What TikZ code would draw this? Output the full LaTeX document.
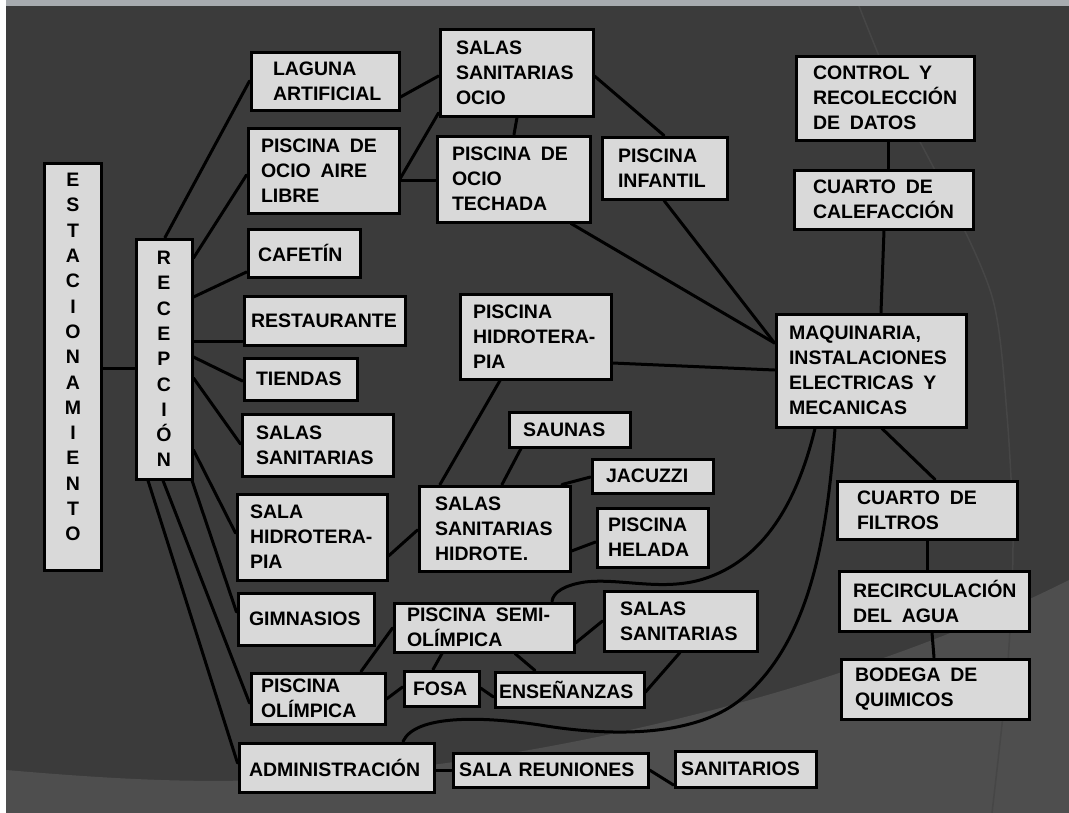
\documentclass[tikz,border=0pt]{standalone}
\usepackage{fontspec}
\setmainfont{Liberation Sans}
\usetikzlibrary{calc}
\pgfdeclarelayer{bg}
\pgfdeclarelayer{lines}
\pgfsetlayers{bg,lines,main}
\definecolor{bgdark}{HTML}{3B3B3B}
\definecolor{bglight}{HTML}{4E4E4E}
\definecolor{topband}{HTML}{A7ABAF}
\definecolor{boxfill}{HTML}{D9D9D9}
\definecolor{arcgray}{HTML}{464646}
\hyphenpenalty=10000
\exhyphenpenalty=10000
\tikzset{
  box/.style={draw=black, line width=3pt, fill=boxfill, align=left, inner ysep=0pt,
    text=black, font=\bfseries\fontsize{19.5}{25}\selectfont},
  stack/.style={box, align=center, inner xsep=0pt,
    font=\bfseries\fontsize{19.5}{25.3}\selectfont},
  link/.style={draw=black, line width=3pt, line cap=round},
}
\newcommand\mkbox[7][11]{%
  \pgfmathsetmacro\bxw{#5-#3-2*#1-2}%
  \pgfmathsetmacro\bxh{#6-#4-2}%
  \pgfmathsetmacro\bxcx{(#3+#5)/2}%
  \pgfmathsetmacro\bxcy{(#4+#6)/2}%
  \node[box, inner xsep=#1pt, text width=\bxw pt, minimum height=\bxh pt] (#2) at (\bxcx,\bxcy) {#7};%
}
\begin{document}
\begin{tikzpicture}[x=1pt,y=-1pt]
\useasboundingbox (0,0) rectangle (1069,812);
\begin{pgfonlayer}{bg}
  \fill[white] (-20,-20) rectangle (1090,830);
  \fill[bgdark] (6,-20) rectangle (1090,830);
  \fill[bglight] (6,830) -- (6,770) .. controls (100,778) and (200,785) .. (300,778)
     .. controls (550,762) and (850,690) .. (1069,580) -- (1090,570) -- (1090,830) -- cycle;
  \draw[arcgray, line width=1.5pt] plot[smooth] coordinates {(859,6) (895,93) (950,200) (993,300) (1007,415) (1013,544) (1007,674) (990,830)};
  \fill[topband] (6,-20) rectangle (1090,6);
\end{pgfonlayer}

% vertical stacks
\node[stack, text width=57pt, minimum height=407pt] (est) at (73,367)
  {E\\S\\T\\A\\C\\I\\O\\N\\A\\M\\I\\E\\N\\T\\O\rule[-20pt]{0pt}{20pt}};
\node[stack, text width=56pt, minimum height=240pt] (rec) at (164,359)
  {R\\E\\C\\E\\P\\C\\I\\Ó\\N};

% left column
\mkbox[22]{lag}{250}{51}{400}{111}{LAGUNA\\ARTIFICIAL}
\mkbox[13]{pal}{247}{127}{400}{214}{PISCINA\enspace DE\\OCIO\enspace AIRE\\LIBRE}
\mkbox[10]{caf}{247}{228}{361}{278}{CAFETÍN}
\mkbox[7]{res}{243}{295}{406}{346}{RESTAURANTE}
\mkbox[12]{tie}{243}{357}{358}{401}{TIENDAS}
\mkbox[14]{ssl}{241}{413}{394}{477}{SALAS\\SANITARIAS}
\mkbox[13]{shi}{236}{493}{388}{581}{SALA\\HIDROTERA-\\PIA}
\mkbox[11]{gim}{237}{592}{375}{646}{GIMNASIOS}
\mkbox[10]{pol}{250}{672}{386}{725}{PISCINA\\OLÍMPICA}
\mkbox[10]{adm}{238}{742}{435}{793}{ADMINISTRACIÓN}
\mkbox[6]{sru}{452}{752}{649}{788}{SALA REUNIONES}
\mkbox[6]{san}{674}{750}{817}{788}{SANITARIOS}

% middle
\mkbox[16]{sso}{439}{28}{594}{117}{SALAS\\SANITARIAS\\OCIO}
\mkbox[15]{pot}{436}{135}{591}{223}{PISCINA\enspace DE\\OCIO\\TECHADA}
\mkbox[16]{pin}{601}{136}{728}{200}{PISCINA\\INFANTIL}
\mkbox[13]{phi}{459}{293}{612}{380}{PISCINA\\HIDROTERA-\\PIA}
\mkbox[14]{sau}{508}{411}{631}{448}{SAUNAS}
\mkbox[14]{jac}{591}{458}{714}{494}{JACUZZI}
\mkbox[16]{ssh}{418}{485}{571}{572}{SALAS\\SANITARIAS\\HIDROTE.}
\mkbox[11]{phe}{596}{507}{709}{568}{PISCINA\\HELADA}
\mkbox[13]{pso}{393}{602}{575}{653}{PISCINA\enspace SEMI-\\OLÍMPICA}
\mkbox[16]{ssb}{603}{590}{758}{652}{SALAS\\SANITARIAS}
\mkbox[9]{fos}{403}{670}{480}{707}{FOSA}
\mkbox[4]{ens}{494}{671}{645}{708}{ENSEÑANZAS}

% right column
\mkbox[17]{con}{795}{55}{975}{141}{CONTROL\enspace Y\\RECOLECCIÓN\\DE\enspace DATOS}
\mkbox[19]{cal}{793}{169}{974}{230}{CUARTO\enspace DE\\CALEFACCIÓN}
\mkbox[13]{maq}{775}{313}{967}{428}{MAQUINARIA,\\INSTALACIONES\\ELECTRICAS\enspace Y\\MECANICAS}
\mkbox[20]{fil}{836}{480}{1018}{540}{CUARTO\enspace DE\\FILTROS}
\mkbox[14]{rci}{838}{570}{1030}{632}{RECIRCULACIÓN\\DEL\enspace AGUA}
\mkbox[14]{bod}{840}{658}{1030}{720}{BODEGA\enspace DE\\QUIMICOS}

\begin{pgfonlayer}{lines}
  \draw[link] (est.east |- 0,368) -- (rec.west |- 0,368);
  \draw[link] (rec.north -| 165,0) -- (lag.west |- 0,81);
  \draw[link] (rec.east |- 0,258) -- (pal.west |- 0,175);
  \draw[link] (rec.east |- 0,297) -- (caf.west |- 0,272);
  \draw[link] (rec.east |- 0,341) -- (res.west |- 0,341);
  \draw[link] (rec.east |- 0,357) -- (tie.west |- 0,381);
  \draw[link] (rec.east |- 0,378) -- (ssl.west |- 0,444);
  \draw[link] (rec.east |- 0,450) -- (shi.west |- 0,533);
  \draw[link] (rec.south -| 192,0) -- (gim.west |- 0,612);
  \draw[link] (rec.south -| 163,0) -- (pol.west |- 0,703);
  \draw[link] (rec.south -| 148,0) -- (adm.west |- 0,763);
  \draw[link] (lag.east |- 0,97) -- (sso.west |- 0,76);
  \draw[link] (pal.east |- 0,178) -- (sso.west |- 0,113);
  \draw[link] (pal.east |- 0,180) -- (pot.west |- 0,180);
  \draw[link] (sso.south -| 517,0) -- (pot.north -| 514,0);
  \draw[link] (sso.east |- 0,76) -- (pin.north -| 664,0);
  \draw[link] (pot.south -| 571,0) -- (maq.west |- 0,343);
  \draw[link] (pin.south -| 664,0) -- (maq.west |- 0,343);
  \draw[link] (phi.east |- 0,363) -- (maq.west |- 0,370);
  \draw[link] (con.south -| 888,0) -- (cal.north -| 888,0);
  \draw[link] (cal.south -| 884,0) -- (maq.north -| 881,0);
  \draw[link] (maq.south -| 882,0) -- (fil.north -| 935,0);
  \draw[link] (fil.south -| 927,0) -- (rci.north -| 927,0);
  \draw[link] (rci.south -| 932,0) -- (bod.north -| 934,0);
  \draw[link] (phi.south -| 500,0) -- (ssh.north -| 440,0);
  \draw[link] (sau.south -| 521,0) -- (ssh.north -| 502,0);
  \draw[link] (jac.west |- 0,477) -- (ssh.north -| 562,0);
  \draw[link] (phe.west |- 0,542) -- (ssh.east |- 0,551);
  \draw[link] (shi.east |- 0,556) -- (ssh.west |- 0,530);
  \draw[link] (maq.south -| 815,0) .. controls (800,490) and (770,560) .. (700,580)
     .. controls (660,591) and (620,578) .. (585,582)
     .. controls (565,585) and (553,592) .. (pso.north -| 552,0);
  \draw[link] (maq.south -| 835,0) .. controls (828,520) and (815,640) .. (740,700)
     .. controls (690,740) and (600,735) .. (540,725)
     .. controls (480,716) and (415,715) .. (adm.north -| 403,0);
  \draw[link] (pso.west |- 0,628) -- (pol.north -| 361,0);
  \draw[link] (pso.south -| 442,0) -- (fos.north -| 433,0);
  \draw[link] (pso.south -| 515,0) -- (ens.north -| 535,0);
  \draw[link] (pso.east |- 0,643) -- (ssb.west |- 0,621);
  \draw[link] (ssb.south -| 680,0) -- (ens.east |- 0,692);
  \draw[link] (pol.east |- 0,699) -- (fos.west |- 0,687);
  \draw[link] (fos.east |- 0,688) -- (ens.west |- 0,697);
  \draw[link] (adm.east |- 0,770) -- (sru.west |- 0,770);
  \draw[link] (sru.east |- 0,770) -- (san.west |- 0,785);
\end{pgfonlayer}
\end{tikzpicture}
\end{document}
